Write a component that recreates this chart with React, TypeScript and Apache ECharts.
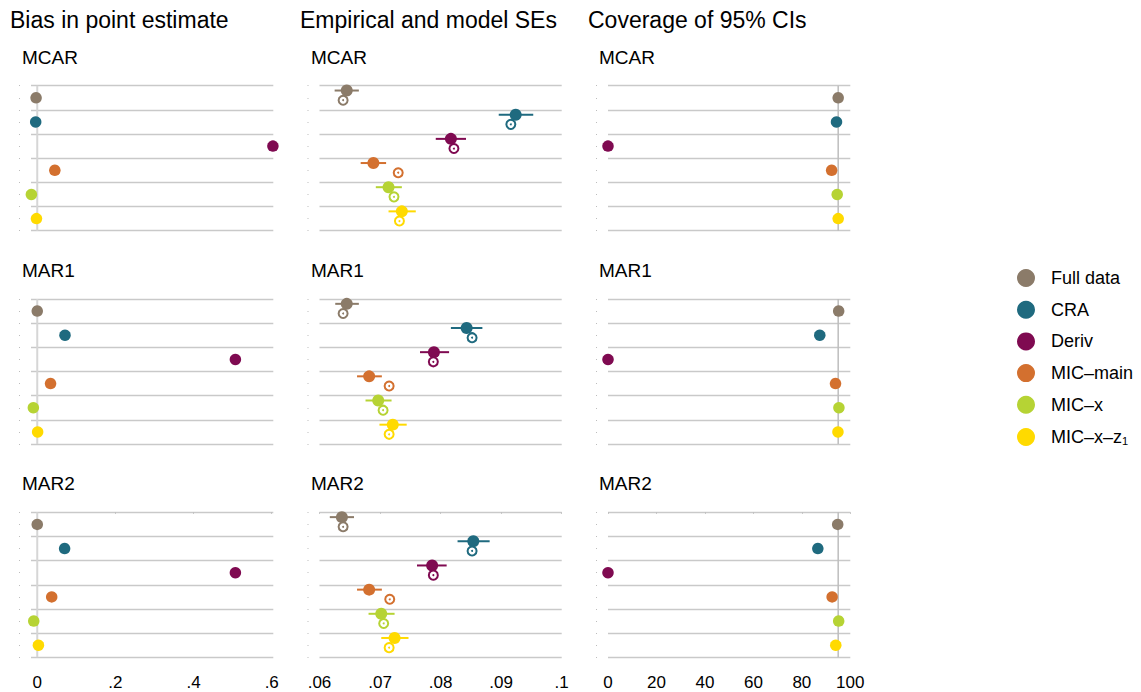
import React, { useEffect, useRef } from 'react';
import * as echarts from 'echarts';

const methods = ['Full data', 'CRA', 'Deriv', 'MIC–main', 'MIC–x', 'MIC–x–z1'];
const colors = ['#8b7b69', '#1f6a7f', '#7f0a51', '#d3702f', '#b6d334', '#ffda00'];
const scenarios = ['MCAR', 'MAR1', 'MAR2'];
const panelTitles = ['Bias in point estimate', 'Empirical and model SEs', 'Coverage of 95% CIs'];

// Bias in point estimate
const biasMCAR = [-0.003, -0.004, 0.603, 0.045, -0.015, -0.002];
const biasMAR1 = [0.0, 0.071, 0.507, 0.034, -0.01, 0.001];
const biasMAR2 = [0.0, 0.07, 0.507, 0.037, -0.009, 0.003];

// Empirical SE (with interval) and model SE
const empSeMCAR = [0.0645, 0.0924, 0.0817, 0.0689, 0.0714, 0.0736];
const empLoMCAR = [0.0625, 0.0896, 0.0792, 0.0668, 0.0693, 0.0714];
const empHiMCAR = [0.0665, 0.0953, 0.0842, 0.071, 0.0736, 0.0759];
const modSeMCAR = [0.0639, 0.0916, 0.0822, 0.073, 0.0723, 0.0732];

const empSeMAR1 = [0.0645, 0.0843, 0.0789, 0.0682, 0.0697, 0.0721];
const empLoMAR1 = [0.0626, 0.0817, 0.0766, 0.0662, 0.0676, 0.0699];
const empHiMAR1 = [0.0665, 0.0869, 0.0814, 0.0703, 0.0719, 0.0744];
const modSeMAR1 = [0.0639, 0.0852, 0.0788, 0.0715, 0.0705, 0.0715];

const empSeMAR2 = [0.0637, 0.0854, 0.0786, 0.0682, 0.0702, 0.0724];
const empLoMAR2 = [0.0617, 0.0828, 0.0761, 0.0662, 0.0681, 0.0702];
const empHiMAR2 = [0.0657, 0.0881, 0.081, 0.0703, 0.0724, 0.0747];
const modSeMAR2 = [0.0639, 0.0852, 0.0788, 0.0716, 0.0706, 0.0715];

// Coverage of 95% CIs
const coverageMCAR = [95.0, 94.3, 0.0, 92.3, 94.6, 95.0];
const coverageMAR1 = [95.2, 87.4, 0.0, 93.9, 95.3, 94.9];
const coverageMAR2 = [94.8, 86.6, 0.0, 92.5, 95.2, 94.0];

const biasTicks = [0, 0.2, 0.4, 0.6];
const seTicks = [0.06, 0.07, 0.08, 0.09, 0.1];
const coverageTicks = [0, 20, 40, 60, 80, 100];
const biasRef = 0;
const coverageRef = 95;

const FONT = '"Liberation Sans", Arial, Helvetica, sans-serif';

function fmtTick(v: number): string {
  if (v === 0) return '0';
  const s = String(+v.toFixed(4));
  return s.startsWith('0.') ? s.slice(1) : s;
}

function buildOption() {
  const biasRows = [biasMCAR, biasMAR1, biasMAR2];
  const empRows = [empSeMCAR, empSeMAR1, empSeMAR2];
  const loRows = [empLoMCAR, empLoMAR1, empLoMAR2];
  const hiRows = [empHiMCAR, empHiMAR1, empHiMAR2];
  const modRows = [modSeMCAR, modSeMAR1, modSeMAR2];
  const covRows = [coverageMCAR, coverageMAR1, coverageMAR2];

  const colLeft = [31, 319.5, 608];
  const colWidth = [242.3, 242.2, 242.3];
  const rowTop = [85.7, 299, 512.3];
  const gridH = 145;
  const titleLeft = [10, 300, 588];
  const subLeft = [22, 311, 599];
  const subTop = [47.5, 260.8, 474.1];

  const xRanges = [
    { min: -0.016, max: 0.604, ticks: biasTicks },
    { min: 0.06, max: 0.1, ticks: seTicks },
    { min: 0, max: 100, ticks: coverageTicks },
  ];

  const grid: any[] = [];
  const xAxis: any[] = [];
  const yAxis: any[] = [];
  const series: any[] = [];
  const title: any[] = [];

  panelTitles.forEach((t, c) => {
    title.push({
      text: t,
      left: titleLeft[c],
      top: 8,
      padding: 0,
      textStyle: { fontSize: 23, fontWeight: 'normal', color: '#000', fontFamily: FONT },
    });
  });

  for (let r = 0; r < 3; r++) {
    for (let c = 0; c < 3; c++) {
      const g = r * 3 + c;
      title.push({
        text: scenarios[r],
        left: subLeft[c],
        top: subTop[r],
        padding: 0,
        textStyle: { fontSize: 19, fontWeight: 'normal', color: '#000', fontFamily: FONT },
      });
      grid.push({ left: colLeft[c], top: rowTop[r], width: colWidth[c], height: gridH });
      const xr = xRanges[c];
      const bottom = r === 2;
      xAxis.push({
        gridIndex: g,
        type: 'value',
        min: xr.min,
        max: xr.max,
        offset: 11,
        axisLine: { show: false },
        splitLine: { show: false },
        axisTick: {
          show: bottom,
          length: 1.5,
          customValues: xr.ticks,
          lineStyle: { color: '#bdbdbd', width: 1 },
        },
        axisLabel: {
          show: bottom,
          customValues: xr.ticks,
          formatter: fmtTick,
          fontSize: 17,
          color: '#000',
          fontFamily: FONT,
          margin: 6,
        },
      });
      yAxis.push({
        gridIndex: g,
        type: 'value',
        position: 'left',
        min: 0,
        max: 6,
        interval: 1,
        inverse: true,
        axisLine: { show: false },
        axisTick: { show: false },
        axisLabel: { show: false },
        splitLine: { show: true, lineStyle: { color: '#c9c9c9', width: 1.4 } },
      });
      yAxis.push({
        gridIndex: g,
        type: 'value',
        position: 'left',
        min: 0,
        max: 6,
        interval: 0.5,
        inverse: true,
        offset: 11,
        axisLine: { show: false },
        axisTick: { show: true, length: 1, lineStyle: { color: '#bdbdbd', width: 1 } },
        axisLabel: { show: false },
        splitLine: { show: false },
      });
      const yA = 2 * g;

      if (c === 0 || c === 2) {
        const vals = c === 0 ? biasRows[r] : covRows[r];
        const ref = c === 0 ? biasRef : coverageRef;
        series.push({
          type: 'line',
          name: 'reference',
          xAxisIndex: g,
          yAxisIndex: yA,
          data: [[ref, 0], [ref, 6]],
          symbol: 'none',
          silent: true,
          z: 1,
          lineStyle: c === 0 ? { color: '#d6d6d6', width: 2 } : { color: '#bdbdbd', width: 1.5 },
        });
        methods.forEach((m, i) => {
          series.push({
            type: 'scatter',
            name: m,
            xAxisIndex: g,
            yAxisIndex: yA,
            data: [[vals[i], i + 0.5]],
            symbol: 'circle',
            symbolSize: 11.5,
            itemStyle: { color: colors[i], opacity: 1 },
            z: 3,
          });
        });
      } else {
        const emp = empRows[r];
        const lo = loRows[r];
        const hi = hiRows[r];
        const mod = modRows[r];
        series.push({
          type: 'custom',
          name: 'Empirical SE interval',
          xAxisIndex: g,
          yAxisIndex: yA,
          data: methods.map((_, i) => [lo[i], hi[i], i + 0.2, i]),
          encode: { x: [0, 1], y: 2 },
          z: 2,
          renderItem: (params: any, api: any) => {
            const p1 = api.coord([api.value(0), api.value(2)]);
            const p2 = api.coord([api.value(1), api.value(2)]);
            return {
              type: 'line',
              shape: { x1: p1[0], y1: p1[1], x2: p2[0], y2: p2[1] },
              style: { stroke: colors[api.value(3)], lineWidth: 2 },
            };
          },
        });
        methods.forEach((m, i) => {
          series.push({
            type: 'scatter',
            name: m,
            xAxisIndex: g,
            yAxisIndex: yA,
            data: [[emp[i], i + 0.2]],
            symbol: 'circle',
            symbolSize: 12,
            itemStyle: { color: colors[i], opacity: 1 },
            z: 3,
          });
          series.push({
            type: 'scatter',
            name: m + ' (model SE)',
            xAxisIndex: g,
            yAxisIndex: yA,
            data: [[mod[i], i + 0.6]],
            symbol: 'circle',
            symbolSize: 9,
            itemStyle: { color: '#ffffff', borderColor: colors[i], borderWidth: 2, opacity: 1 },
            z: 4,
          });
          series.push({
            type: 'scatter',
            name: m + ' (model SE centre)',
            xAxisIndex: g,
            yAxisIndex: yA,
            data: [[mod[i], i + 0.6]],
            symbol: 'circle',
            symbolSize: 2,
            itemStyle: { color: colors[i], opacity: 1 },
            z: 5,
          });
        });
      }
    }
  }

  return {
    animation: false,
    backgroundColor: '#ffffff',
    textStyle: { fontFamily: FONT },
    title,
    grid,
    xAxis,
    yAxis,
    series,
    legend: {
      data: methods.map((name) => ({ name, icon: 'circle' })),
      orient: 'vertical',
      left: 1017,
      top: 269,
      itemWidth: 40,
      itemHeight: 18,
      itemGap: 13.7,
      selectedMode: false,
      padding: 0,
      formatter: (name: string) => (name === 'MIC–x–z1' ? 'MIC–x–z{sub|1}' : name),
      textStyle: {
        fontSize: 18,
        color: '#000',
        fontFamily: FONT,
        lineHeight: 18,
        rich: {
          sub: { fontSize: 11, color: '#000', fontFamily: FONT, padding: [8, 0, 0, 0], lineHeight: 18 },
        },
      },
    },
  };
}

export default function App() {
  const ref = useRef<HTMLDivElement>(null);
  useEffect(() => {
    if (!ref.current) return;
    const chart = echarts.init(ref.current, undefined, { renderer: 'svg' });
    chart.setOption(buildOption() as any);
    return () => {
      chart.dispose();
    };
  }, []);
  return (
    <div
      ref={ref}
      style={{ position: 'fixed', left: 0, top: 0, width: 1141, height: 692, background: '#fff' }}
    />
  );
}
